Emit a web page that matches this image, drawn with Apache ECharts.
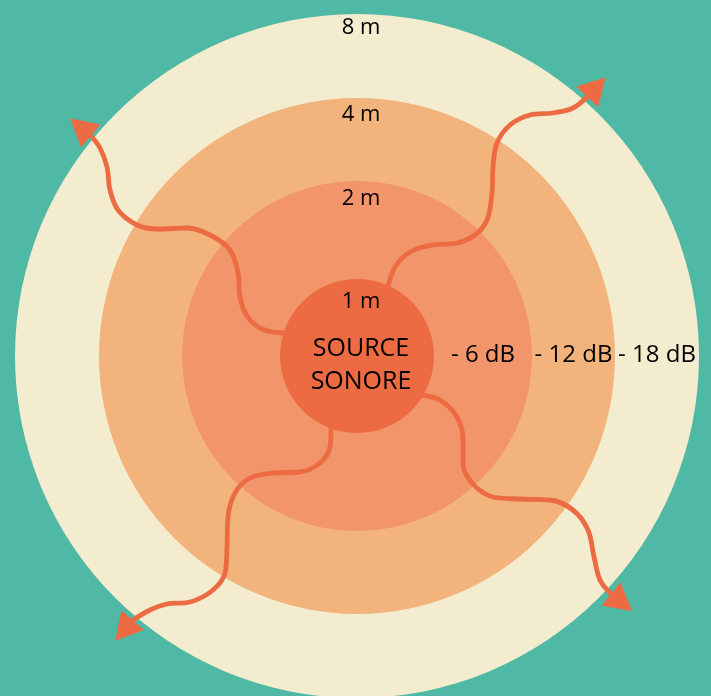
<!DOCTYPE html>
<html><head><meta charset="utf-8">
<script src="https://cdn.jsdelivr.net/npm/echarts@6/dist/echarts.min.js"></script>
<style>html,body{margin:0;padding:0;background:#50b9a6}#c{width:711px;height:696px}</style>
</head><body><div id="c"></div>
<script>
// Diagram units: origin at the sound source, y upwards
const ringRadii = [342, 258, 175, 77];           // outer -> inner
const ringLabels = ['8 m', '4 m', '2 m', '1 m'];
const dbLabels = ['- 6 dB', '- 12 dB', '- 18 dB'];
const sourceLines = ['SOURCE', 'SONORE'];

const arrowUpLeft = [[-74,23],[-95,27],[-110,40],[-117,59],[-119,83],[-127,106],[-147,121],[-170,128],[-200,127],[-220,131],[-239,146],[-247,166],[-250,189],[-257,208],[-266,220]];
const arrowUpRight = [[31,69],[38,89],[53,104],[76,111],[100,113],[118,121],[130,136],[135,163],[136,189],[140,213],[153,231],[173,241],[196,243],[216,248],[230,259]];
const arrowDownLeft = [[-26,-72],[-27,-91],[-37,-107],[-57,-116],[-84,-117],[-107,-122],[-122,-137],[-129,-161],[-130,-191],[-132,-217],[-144,-234],[-167,-246],[-190,-248],[-207,-254],[-224,-264]];
const arrowDownRight = [[63,-39],[83,-44],[100,-61],[106,-84],[106,-107],[115,-127],[136,-141],[163,-143],[193,-144],[216,-154],[231,-174],[237,-201],[243,-224],[254,-238]];
const arrowTips = [[-287,238],[249,279],[-242,-285],[275,-255]];

// styles
const ringColors = ['#f4ecce', '#f2b47c', '#f3956a', '#ec6b42'];
const arrowColor = '#ec6b42';
const textColor = '#000';
const font = '"Open Sans", sans-serif';
const ringLabelInset = [14, 17, 18, 23];
const labelX = 4;

const arrows = [arrowUpLeft, arrowUpRight, arrowDownLeft, arrowDownRight];

const heads = arrows.map((pts, i) => {
  const b = pts[pts.length - 1], t = arrowTips[i];
  const ang = Math.atan2(t[1] - b[1], t[0] - b[0]) * 180 / Math.PI;
  return { value: [(b[0] + t[0]) / 2, (b[1] + t[1]) / 2], symbolRotate: ang - 90 };
});

const labelData = [];
ringLabels.forEach((t, i) => labelData.push({ name: t, value: [labelX, ringRadii[i] - ringLabelInset[i]], fs: 22 }));
dbLabels.forEach((t, i) => {
  const inner = ringRadii[3 - i], outer = ringRadii[2 - i];
  labelData.push({ name: t, value: [(inner + outer) / 2, 1], fs: 24 });
});
sourceLines.forEach((t, i) => labelData.push({ name: t, value: [labelX, 7 - i * 32.5], fs: 25 }));

const chart = echarts.init(document.getElementById('c'), null, { renderer: 'canvas' });
const series = [
  {
    type: 'custom', z: 1, silent: true,
    data: ringRadii.map(r => [r, 0]),
    renderItem: (params, api) => {
      const c = api.coord([0, 0]);
      const r = api.size([api.value(0), 0])[0];
      return { type: 'circle', shape: { cx: c[0], cy: c[1], r: r }, style: { fill: ringColors[params.dataIndex] } };
    }
  }
];
arrows.forEach(pts => series.push({
  type: 'line', z: 2, data: pts, smooth: 0.35, showSymbol: false, silent: true,
  lineStyle: { color: arrowColor, width: 4.8, cap: 'round' }
}));
series.push({
  type: 'scatter', z: 3, silent: true, symbol: 'triangle', symbolSize: [30, 27],
  itemStyle: { color: arrowColor, opacity: 1 }, data: heads
});
series.push({
  type: 'scatter', z: 4, silent: true, symbolSize: 1, itemStyle: { color: 'rgba(0,0,0,0)', opacity: 1 },
  data: labelData.map(d => ({
    name: d.name, value: d.value,
    label: { show: true, position: 'inside', formatter: '{b}', color: textColor, fontFamily: font, fontSize: d.fs }
  }))
});

chart.setOption({
  backgroundColor: '#50b9a6',
  animation: false,
  grid: { left: 0, right: 0, top: 0, bottom: 0 },
  xAxis: { type: 'value', min: -357, max: 354, show: false },
  yAxis: { type: 'value', min: -340, max: 356, show: false },
  series: series
});
</script></body></html>
